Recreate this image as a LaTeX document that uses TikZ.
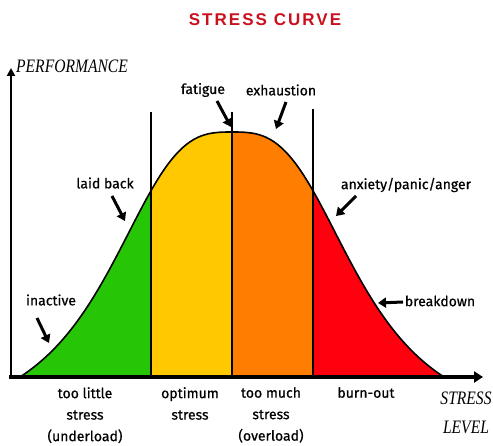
\documentclass[tikz,border=0pt]{standalone}
\usepackage{fontspec}
\usepackage{graphicx}
\setmainfont{Fira Sans}
\newfontfamily\handfont{Fira Sans}[FakeBold=0.6]
\newfontfamily\serifit{Liberation Serif}[ItalicFont={Liberation Serif Italic}]
\newfontfamily\titlefont{Liberation Sans}[LetterSpace=12]
\usetikzlibrary{arrows.meta}
\definecolor{cgreen}{RGB}{38,198,6}
\definecolor{cyellow}{RGB}{255,200,0}
\definecolor{corange}{RGB}{255,125,0}
\definecolor{cred}{RGB}{255,0,14}
\definecolor{ctitle}{RGB}{200,16,30}
\tikzset{
  hand/.style={font=\handfont\fontsize{14}{16}\selectfont, inner sep=0pt, align=center},
  axlab/.style={font=\serifit\itshape\fontsize{19}{26}\selectfont, inner sep=0pt, align=center},
  pointer/.style={line width=3pt, -{Triangle[length=8pt,width=10pt]}},
  divider/.style={line width=1.3pt},
  declare function={ff(\d)=1/(1+pow(abs(\d)/130,3)); gg(\d)=(ff(\d)-ff(212))/(1-ff(212));},
}
\begin{document}
\begin{tikzpicture}[x=1pt,y=-1pt]
\useasboundingbox (0,0) rectangle (493,446);
% fills
\begin{scope}
\clip plot[domain=-212:212, samples=161, smooth] ({232+\x},{377-245*gg(\x)}) -- cycle;
\fill[cgreen] (0,100) rectangle (151,380);
\fill[cyellow] (151,100) rectangle (232,380);
\fill[corange] (232,100) rectangle (313,380);
\fill[cred] (313,100) rectangle (480,380);
\end{scope}
\draw[line width=1.6pt] plot[domain=-212:212, samples=161, smooth] ({232+\x},{377-245*gg(\x)});
% dividers
\coordinate (d1t) at (151,112); \coordinate (d1b) at (151,377);
\coordinate (d2t) at (232,112); \coordinate (d2b) at (232,377);
\coordinate (d3t) at (313,109); \coordinate (d3b) at (313,377);
\draw[divider] (d1t) -- (d1b);
\draw[divider] (d2t) -- (d2b);
\draw[divider] (d3t) -- (d3b);
% axes
\coordinate (O) at (11,377);
\coordinate (ytop) at (11,68);
\coordinate (xend) at (483,377);
\draw[line width=2.8pt, -{Triangle[length=8pt,width=8pt]}] (11,379) -- (ytop);
\draw[line width=4.5pt, -{Triangle[length=9pt,width=11pt]}] (9,377) -- (xend);
% title
\node[font=\titlefont\bfseries\fontsize{17}{20}\selectfont, text=ctitle, inner sep=0pt] (title) at (265,20) {STRESS CURVE};
% axis labels
\node[axlab, anchor=west] (perf) at (16,66) {\scalebox{0.82}[1]{PERFORMANCE}};
\node[axlab] (stress) at (466,398) {\scalebox{0.82}[1]{STRESS}};
\node[axlab] (level) at (466,427) {\scalebox{0.82}[1]{LEVEL}};
% labels with pointers
\node[hand] (fatigue) at (203,90) {fatigue};
\node[hand] (exh) at (281,90) {exhaustion};
\node[hand] (laid) at (105,183) {laid back};
\node[hand] (anx) at (406,185) {anxiety/panic/anger};
\node[hand] (inact) at (51,300) {inactive};
\node[hand] (brk) at (440,301) {breakdown};
\coordinate (fa1) at (217,101); \coordinate (fa2) at (231,127);
\coordinate (ex1) at (286,102); \coordinate (ex2) at (276,129);
\coordinate (la1) at (112,196); \coordinate (la2) at (125,221);
\coordinate (an1) at (356,196); \coordinate (an2) at (336,216);
\coordinate (in1) at (37,318); \coordinate (in2) at (49,343);
\coordinate (br1) at (403,302); \coordinate (br2) at (378,303);
\draw[pointer] (fa1) -- (fa2);
\draw[pointer] (ex1) -- (ex2);
\draw[pointer] (la1) -- (la2);
\draw[pointer] (an1) -- (an2);
\draw[pointer] (in1) -- (in2);
\draw[pointer] (br1) -- (br2);
% bottom labels
\node[hand, anchor=north, font=\handfont\fontsize{14}{21.5}\selectfont] (z1) at (85,387) {too little\\stress\\(underload)};
\node[hand, anchor=north, font=\handfont\fontsize{14}{21.5}\selectfont] (z2) at (190,387) {optimum\\stress};
\node[hand, anchor=north, font=\handfont\fontsize{14}{21.5}\selectfont] (z3) at (271,387) {too much\\stress\\(overload)};
\node[hand, anchor=north, font=\handfont\fontsize{14}{21.5}\selectfont] (z4) at (366,387) {burn-out};
\end{tikzpicture}
\end{document}
